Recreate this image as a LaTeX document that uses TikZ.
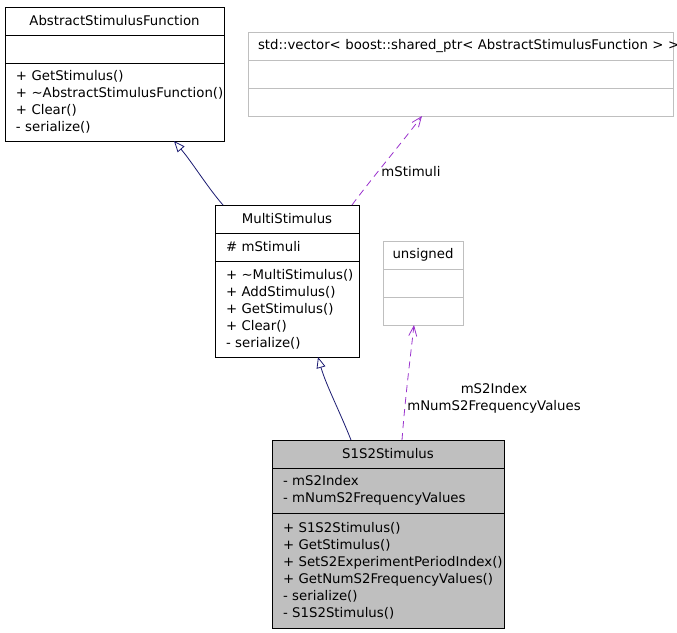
\documentclass[tikz,border=0pt]{standalone}
\usepackage{fontspec}
\setmainfont{DejaVu Sans}
\usetikzlibrary{positioning,arrows.meta}

\definecolor{inhcol}{HTML}{191970}
\definecolor{usecol}{HTML}{9A32CD}
\definecolor{extgray}{HTML}{BFBFBF}

\tikzset{
    cls/.style={rectangle, draw=black, line width=0.9pt, inner sep=0pt, outer sep=0pt, minimum height=28pt,
        font=\fontsize{13.3}{17}\selectfont, execute at begin node={\hyphenpenalty=10000 \exhyphenpenalty=10000}},
    clsext/.style={cls, draw=extgray},
    clspart/.style={inner xsep=11pt, align=left},
    inherit/.style={-{Triangle[open, length=11pt, width=9pt]}, draw=inhcol, line width=0.8pt},
    uses/.style={-{Straight Barb[length=10pt, width=8pt]}, draw=usecol, dash pattern=on 7pt off 5pt, line width=0.8pt},
    edgelbl/.style={font=\fontsize{13.3}{17}\selectfont, align=center, inner sep=0pt}
}

\begin{document}
\begin{tikzpicture}[x=1pt, y=-1pt]
    \useasboundingbox (0,0) rectangle (677,632);

    %% AbstractStimulusFunction
    \node[cls, anchor=north west, minimum width=219pt] (asf) at (5,7) {AbstractStimulusFunction};
    \node[cls, minimum width=219pt, below=0pt of asf] (asf-att) {};
    \node[cls, clspart, text width=197pt, minimum height=78pt, below=0pt of asf-att] (asf-op)
        {+~GetStimulus()\\+~\textasciitilde AbstractStimulusFunction()\\+~Clear()\\-~serialize()};

    %% std::vector< ... >
    \node[clsext, anchor=north west, text width=405pt, inner xsep=10pt, align=left] (vec) at (248,32)
        {\mbox{std::vector< boost::shared\_ptr< AbstractStimulusFunction > >}};
    \node[clsext, minimum width=425pt, below=0pt of vec] (vec-att) {};
    \node[clsext, minimum width=425pt, below=0pt of vec-att] (vec-op) {};

    %% MultiStimulus
    \node[cls, anchor=north west, minimum width=144pt] (multi) at (215,205) {MultiStimulus};
    \node[cls, clspart, text width=122pt, below=0pt of multi] (multi-att) {\#~mStimuli};
    \node[cls, clspart, text width=122pt, minimum height=96pt, below=0pt of multi-att] (multi-op)
        {+~\textasciitilde MultiStimulus()\\+~AddStimulus()\\+~GetStimulus()\\+~Clear()\\-~serialize()};

    %% unsigned
    \node[clsext, anchor=north west, minimum width=80pt] (uns) at (383,241) {unsigned};
    \node[clsext, minimum width=80pt, below=0pt of uns] (uns-att) {};
    \node[clsext, minimum width=80pt, below=0pt of uns-att] (uns-op) {};

    %% S1S2Stimulus
    \node[cls, fill=extgray, anchor=north west, minimum width=232pt] (s12) at (272,440) {S1S2Stimulus};
    \node[cls, clspart, fill=extgray, text width=210pt, minimum height=45pt, below=0pt of s12] (s12-att)
        {-~mS2Index\\-~mNumS2FrequencyValues};
    \node[cls, clspart, fill=extgray, text width=210pt, minimum height=115pt, below=0pt of s12-att] (s12-op)
        {+~S1S2Stimulus()\\+~GetStimulus()\\+~SetS2ExperimentPeriodIndex()\\+~GetNumS2FrequencyValues()\\-~serialize()\\-~S1S2Stimulus()};

    %% inheritance
    \draw[inherit] ([xshift=8pt]multi.north west) .. controls (208,188) and (192,162) .. ([xshift=169pt]asf-op.south west);
    \draw[inherit] ([xshift=79pt]s12.north west) .. controls (340,412) and (326,385) .. ([xshift=103pt]multi-op.south west);

    %% usage
    \draw[uses] ([xshift=137pt]multi.north west) .. controls (372,178) and (400,145) .. ([xshift=174pt]vec-op.south west);
    \draw[uses] ([xshift=130pt]s12.north west) .. controls (405,400) and (410,360) .. ([xshift=31pt]uns-op.south west);

    \node[edgelbl] (lbl-stim) at (411,172) {mStimuli};
    \node[edgelbl] (lbl-idx) at (494,398) {mS2Index\\mNumS2FrequencyValues};
\end{tikzpicture}
\end{document}
